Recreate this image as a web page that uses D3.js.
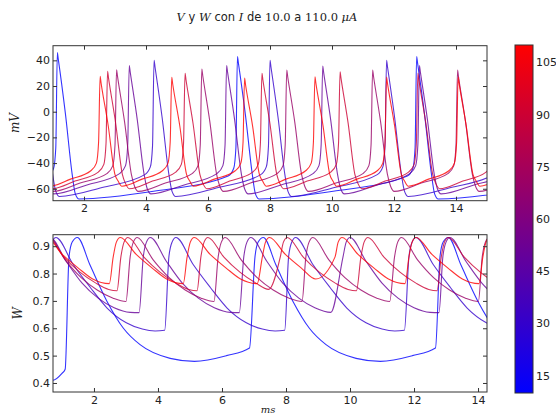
<!DOCTYPE html>
<html lang="es">
<head>
<meta charset="UTF-8">
<title>V y W con I de 10.0 a 110.0 µA</title>
<script src="https://d3js.org/d3.v7.min.js"></script>
<style>
  body { margin: 0; background: #fff; }
  text { font-family: "DejaVu Sans", sans-serif; fill: #222; }
  .math { font-family: "DejaVu Serif", serif; font-style: italic; }
  .num { font-family: "DejaVu Serif", serif; }
</style>
</head>
<body>
<script>
const width = 556, height = 417;

// corriente de cada curva (µA)
const currents = [10, 30, 50, 70, 90, 110];

// instantes de los picos de V (ms);
// el primero / ultimo de algunas curvas cae fuera de la vista
const spikeTimes = [
  [1.14, 6.95, 12.73, 18.5],
  [0.51, 4.26, 8.0, 11.76, 15.51],
  [0.33, 3.46, 6.60, 9.70, 12.82, 15.94],
  [0.30, 3.05, 5.80, 8.54, 11.31, 14.05, 16.8],
  [0.26, 2.76, 5.26, 7.74, 10.26, 12.77, 15.27],
  [0.21, 2.52, 4.83, 7.18, 9.45, 11.76, 14.07, 16.38]
];
// altura de cada pico (mV)
const spikePeaks = [
  [46, 43, 43, 43],
  [40, 40, 40, 40, 40],
  [36, 36, 36, 35.6, 36, 36],
  [33, 32.7, 33.2, 32.4, 32.4, 32.4, 32.4],
  [30, 31.4, 29.9, 29.9, 31.1, 30, 30],
  [27, 27.5, 26.8, 26.2, 27.2, 27, 27, 27]
];
// valle tras el pico, punto medio de la subida lenta y rodilla antes del disparo (mV)
const vTrough = [-68, -66, -64, -62, -60, -58];
const vMid = [-62, -59, -57, -55.5, -54, -52.5];
const vKnee = [-50, -49, -48, -48, -47, -46];

// caida de W despues de cada pico: [ms desde el pico, W]
const wDecay = [
  [[0.34, 0.932], [0.74, 0.83], [1.26, 0.70], [1.78, 0.60], [2.3, 0.54], [3.24, 0.49], [4.0, 0.479], [5.0, 0.50], [5.72, 0.528]],
  [[0.3, 0.932], [0.84, 0.833], [1.37, 0.75], [1.9, 0.674], [2.5, 0.62], [3.0, 0.597], [3.4, 0.59], [3.7, 0.593]],
  [[0.3, 0.932], [0.8, 0.845], [1.3, 0.765], [1.8, 0.71], [2.3, 0.675], [2.8, 0.658], [3.08, 0.657]],
  [[0.3, 0.932], [0.8, 0.85], [1.3, 0.785], [1.8, 0.74], [2.3, 0.71], [2.7, 0.698]],
  [[0.3, 0.932], [0.8, 0.86], [1.3, 0.805], [1.8, 0.765], [2.2, 0.742], [2.46, 0.737]],
  [[0.3, 0.932], [0.8, 0.87], [1.3, 0.82], [1.75, 0.78], [2.27, 0.763]]
];
// tramo inicial de la curva de 10 µA
const vStart = [[[0.4, -60]], [], [], [], [], []];
const wStart = [[[0.5, 0.41], [0.72, 0.41], [1.0, 0.435], [1.1, 0.45]], [], [], [], [], []];

const tTicks = [2, 4, 6, 8, 10, 12, 14];
const vTicks = [-60, -40, -20, 0, 20, 40];
const wTicks = [0.4, 0.5, 0.6, 0.7, 0.8, 0.9];
const cbTicks = [15, 30, 45, 60, 75, 90, 105];

const svg = d3.select("body").append("svg")
  .attr("width", width)
  .attr("height", height);

const color = d3.scaleLinear().domain([10, 110])
  .range(["#0000ff", "#ff0000"]).interpolate(d3.interpolateRgb);

// paneles
const left = 53, right = 487;
const topBox = {y0: 45.7, y1: 200.7};
const botBox = {y0: 234.7, y1: 392};

const xTop = d3.scaleLinear().domain([1.0, 15.0]).range([left, right]);
const xBot = d3.scaleLinear().domain([0.72, 14.28]).range([left, right]);
const yV = d3.scaleLinear().domain([-69.3, 51.4]).range([topBox.y1, topBox.y0]);
const yW = d3.scaleLinear().domain([0.367, 0.942]).range([botBox.y1, botBox.y0]);

function buildV(k) {
  const pts = vStart[k].slice();
  const ts = spikeTimes[k], pk = spikePeaks[k];
  ts.forEach((tp, i) => {
    if (i > 0) {
      const a = ts[i - 1] + 0.7, b = tp - 0.3;
      pts.push([(a + b) / 2, vMid[k]]);
    }
    pts.push([tp - 0.3, vKnee[k]]);
    pts.push([tp - 0.12, vKnee[k] + 6]);
    pts.push([tp - 0.05, vKnee[k] + 22]);
    pts.push([tp, pk[i]]);
    pts.push([tp + 0.03, pk[i] - 5]);
    pts.push([tp + 0.26, (pk[i] - 49) / 2]);
    pts.push([tp + 0.48, -49]);
    pts.push([tp + 0.58, vTrough[k] + 4]);
    pts.push([tp + 0.7, vTrough[k]]);
  });
  return pts;
}

function buildW(k) {
  const pts = wStart[k].slice();
  const ts = spikeTimes[k];
  ts.forEach((tp, i) => {
    const next = i + 1 < ts.length ? ts[i + 1] : Infinity;
    pts.push([tp + 0.08, 0.86], [tp + 0.18, 0.915]);
    wDecay[k].forEach(([dt, w]) => {
      if (tp + dt < next - 0.03) pts.push([tp + dt, w]);
    });
  });
  return pts;
}

const defs = svg.append("defs");
defs.append("clipPath").attr("id", "clipTop").append("rect")
  .attr("x", left).attr("y", topBox.y0)
  .attr("width", right - left).attr("height", topBox.y1 - topBox.y0);
defs.append("clipPath").attr("id", "clipBot").append("rect")
  .attr("x", left).attr("y", botBox.y0)
  .attr("width", right - left).attr("height", botBox.y1 - botBox.y0);

const lineV = d3.line().x(d => xTop(d[0])).y(d => yV(d[1])).curve(d3.curveMonotoneX);
const lineW = d3.line().x(d => xBot(d[0])).y(d => yW(d[1])).curve(d3.curveMonotoneX);

svg.append("g").attr("clip-path", "url(#clipTop)")
  .selectAll("path")
  .data(currents)
  .join("path")
  .attr("d", (I, k) => lineV(buildV(k)))
  .attr("fill", "none")
  .attr("stroke", I => color(I))
  .attr("stroke-opacity", 0.8)
  .attr("stroke-width", 1.1);

svg.append("g").attr("clip-path", "url(#clipBot)")
  .selectAll("path")
  .data(currents)
  .join("path")
  .attr("d", (I, k) => lineW(buildW(k)))
  .attr("fill", "none")
  .attr("stroke", I => color(I))
  .attr("stroke-opacity", 0.8)
  .attr("stroke-width", 1.1);

// ejes con marcas hacia dentro en los cuatro lados
function frame(x, y, box, xt, yt, yfmt) {
  const g = svg.append("g");
  g.append("g").attr("transform", `translate(0,${box.y1})`)
    .call(d3.axisBottom(x).tickValues(xt).tickSizeInner(-4).tickSizeOuter(0).tickPadding(4));
  g.append("g").attr("transform", `translate(0,${box.y0})`)
    .call(d3.axisTop(x).tickValues(xt).tickSizeInner(-4).tickSizeOuter(0).tickFormat(""));
  g.append("g").attr("transform", `translate(${left},0)`)
    .call(d3.axisLeft(y).tickValues(yt).tickSizeInner(-4).tickSizeOuter(0).tickPadding(3).tickFormat(yfmt));
  g.append("g").attr("transform", `translate(${right},0)`)
    .call(d3.axisRight(y).tickValues(yt).tickSizeInner(-4).tickSizeOuter(0).tickFormat(""));
  g.selectAll(".domain").remove();
  g.selectAll(".tick line").attr("stroke", "#333");
  g.selectAll(".tick text").attr("font-size", 11).attr("font-family", "DejaVu Sans, sans-serif").attr("fill", "#222");
  g.append("rect")
    .attr("x", left).attr("y", box.y0)
    .attr("width", right - left).attr("height", box.y1 - box.y0)
    .attr("fill", "none").attr("stroke", "#333").attr("stroke-width", 1);
}

frame(xTop, yV, topBox, tTicks, vTicks, d3.format("d"));
frame(xBot, yW, botBox, tTicks, wTicks, d3.format(".1f"));

// barra de color
const cbX = 515, cbW = 18, cbTop = 45, cbBot = 393;
const cbScale = d3.scaleLinear().domain([10, 110]).range([cbBot, cbTop]);
const grad = defs.append("linearGradient").attr("id", "cbGrad")
  .attr("x1", 0).attr("y1", 1).attr("x2", 0).attr("y2", 0);
grad.append("stop").attr("offset", 0).attr("stop-color", color(10));
grad.append("stop").attr("offset", 1).attr("stop-color", color(110));
svg.append("rect")
  .attr("x", cbX).attr("y", cbTop)
  .attr("width", cbW).attr("height", cbBot - cbTop)
  .attr("fill", "url(#cbGrad)")
  .attr("stroke", "#333").attr("stroke-width", 1);
svg.append("g")
  .attr("transform", `translate(${cbX + cbW},0)`)
  .call(d3.axisRight(cbScale).tickValues(cbTicks).tickSize(0).tickPadding(3))
  .call(g => g.select(".domain").remove())
  .selectAll("text").attr("font-size", 11).attr("font-family", "DejaVu Sans, sans-serif").attr("fill", "#222");

// titulo
const title = svg.append("text")
  .attr("x", 267).attr("y", 21)
  .attr("text-anchor", "middle")
  .attr("font-size", 11.5);
[["V", "math"], [" y ", ""], ["W", "math"], [" con ", ""], ["I", "math"], [" de ", ""],
 ["10.0", "num"], [" a ", ""], ["110.0", "num"], [" \u03bcA", "math"]]
  .forEach(([s, c]) => title.append("tspan").attr("class", c).text(s));

// etiquetas de los ejes
svg.append("text")
  .attr("class", "math")
  .attr("transform", "translate(19,123) rotate(-90)")
  .attr("text-anchor", "middle")
  .attr("font-size", 12)
  .text("mV");
svg.append("text")
  .attr("class", "math")
  .attr("transform", `translate(22,${(botBox.y0 + botBox.y1) / 2}) rotate(-90)`)
  .attr("text-anchor", "middle")
  .attr("font-size", 12)
  .text("W");
svg.append("text")
  .attr("class", "math")
  .attr("x", 268).attr("y", 413)
  .attr("text-anchor", "middle")
  .attr("font-size", 10)
  .text("ms");
</script>
</body>
</html>
